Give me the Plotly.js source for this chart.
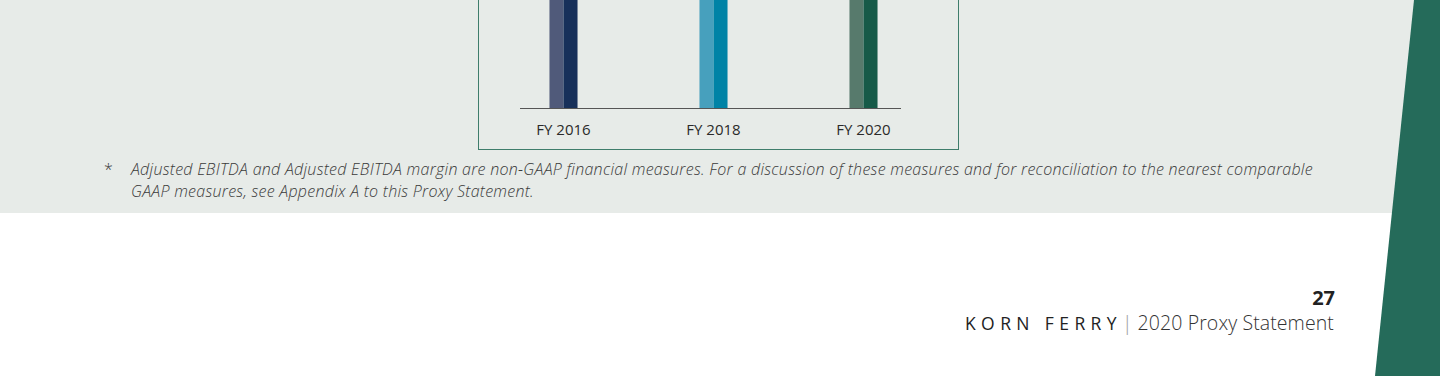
<!DOCTYPE html>
<html>
<head>
<meta charset="utf-8">
<script src="https://cdn.plot.ly/plotly-3.0.1.min.js"></script>
<style>
  html, body { margin:0; padding:0; width:1440px; height:376px; overflow:hidden; background:#ffffff; font-family: "Open Sans", Lato, sans-serif; }
  #band { position:absolute; left:0; top:0; width:1440px; height:213px; background:#e7ebe8; }
  #box { position:absolute; left:478px; top:-10px; width:481px; height:160px; border:1.5px solid #3f7d6b; box-sizing:border-box; }
  #chart { position:absolute; left:479px; top:0; width:479px; height:148px; }
  #slant { position:absolute; left:0; top:0; width:1440px; height:376px; }
  .fn { position:absolute; font-family:"Open Sans", sans-serif; font-style:italic; font-weight:300; font-size:16px; letter-spacing:0.27px; color:#3a3a3a; line-height:22px; white-space:nowrap; }
  #star { left:104px; top:158px; font-style:normal; }
  #fntext { left:131px; top:158px; }
  #pnum { position:absolute; right:105px; top:287px; height:22px; line-height:22px; font-size:20px; font-weight:700; color:#222; font-family:"Open Sans", sans-serif; }
  #footer { position:absolute; right:106px; top:312px; height:22px; line-height:22px; font-size:19.5px; color:#333; white-space:nowrap; font-family:"Open Sans", sans-serif; }
  #kf { letter-spacing:5.4px; font-weight:400; font-size:17.5px; color:#222; }
  #bar { color:#999; font-weight:300; margin:0 5px 0 0px; }
  #ps { font-weight:300; letter-spacing:0.1px; }
</style>
</head>
<body>
<div id="band"></div>
<svg id="slant" width="1440" height="376"><polygon points="1414,0 1440,0 1440,376 1375,376" fill="#256b5a"/></svg>
<div id="box"></div>
<div id="chart"></div>
<div class="fn" id="star">*</div>
<div class="fn" id="fntext">Adjusted EBITDA and Adjusted EBITDA margin are non-GAAP financial measures. For a discussion of these measures and for reconciliation to the nearest comparable<br>GAAP measures, see Appendix A to this Proxy Statement.</div>
<div id="pnum">27</div>
<div id="footer"><span id="kf">KORN FERRY</span><span id="bar">|</span><span id="ps">2020 Proxy Statement</span></div>
<script>
// Data (bars extend above the visible crop; values estimated)
const categories = ["FY 2016", "FY 2018", "FY 2020"];
const seriesA = [239, 320, 283];
const seriesB = [246, 331, 290];
const colorsA = ["#505a7a", "#47a0bd", "#577a6c"];
const colorsB = ["#17305a", "#0083a6", "#165a48"];

const traces = [
  { type:"bar", x:categories, y:seriesA, marker:{color:colorsA, line:{width:0}}, hoverinfo:"none" },
  { type:"bar", x:categories, y:seriesB, marker:{color:colorsB, line:{width:0}}, hoverinfo:"none" }
];
const layout = {
  width:479, height:148,
  margin:{l:41, r:57, t:0, b:40},
  paper_bgcolor:"rgba(0,0,0,0)", plot_bgcolor:"rgba(0,0,0,0)",
  barmode:"group", bargap:0.813, bargroupgap:0,
  showlegend:false,
  xaxis:{ type:"category", range:[-0.29, 2.25], showline:true, linecolor:"#555", linewidth:1,
          ticks:"outside", ticklen:8, tickcolor:"rgba(0,0,0,0)", showgrid:false, zeroline:false,
          tickfont:{family:"'Open Sans', Lato, sans-serif", size:15, color:"#2a2a2a", weight:400} },
  yaxis:{ range:[0, 200], visible:false, showgrid:false, zeroline:false },
  font:{family:"'Open Sans', sans-serif"}
};
Plotly.newPlot("chart", traces, layout, {staticPlot:true, displayModeBar:false});
</script>
</body>
</html>
